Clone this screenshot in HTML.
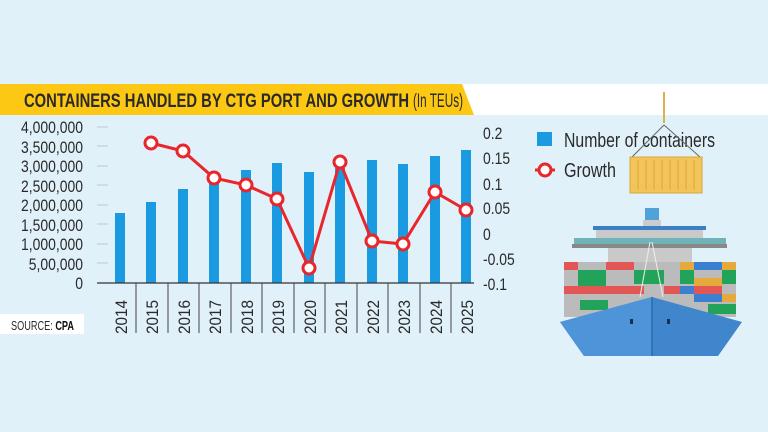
<!DOCTYPE html>
<html><head><meta charset="utf-8"><style>
html,body{margin:0;padding:0;width:768px;height:432px;overflow:hidden;background:#e1f1fa}
svg{display:block}
text{font-family:"Liberation Sans Narrow","Liberation Sans",sans-serif;fill:#2a2a2a}
</style></head><body>
<svg width="768" height="432" viewBox="0 0 768 432">
<rect width="768" height="432" fill="#e1f1fa"/>
<rect x="0" y="84" width="768" height="31" fill="#ffffff"/>
<polygon points="0,84 462,84 474,115 0,115" fill="#fcc813"/>
<text x="24" y="107" font-size="19" font-weight="bold" fill="#222" textLength="385" lengthAdjust="spacingAndGlyphs">CONTAINERS HANDLED BY CTG PORT AND GROWTH</text>
<text x="413" y="107" font-size="19" fill="#222" textLength="50" lengthAdjust="spacingAndGlyphs">(In TEUs)</text>
<g font-size="17" text-anchor="end" transform="translate(83,0) scale(0.82,1) translate(-83,0)">
<text x="83" y="133">4,000,000</text>
<text x="83" y="153">3,500,000</text>
<text x="83" y="172">3,000,000</text>
<text x="83" y="192">2,500,000</text>
<text x="83" y="211">2,000,000</text>
<text x="83" y="231">1,500,000</text>
<text x="83" y="250">1,000,000</text>
<text x="83" y="270">5,00,000</text>
<text x="83" y="289">0</text>
</g>
<g stroke="#b9c7d0" stroke-width="1">
<line x1="97" y1="127" x2="108" y2="127"/><line x1="97" y1="146" x2="108" y2="146"/>
<line x1="97" y1="166" x2="108" y2="166"/><line x1="97" y1="185" x2="108" y2="185"/>
<line x1="97" y1="205" x2="108" y2="205"/><line x1="97" y1="224" x2="108" y2="224"/>
<line x1="97" y1="244" x2="108" y2="244"/><line x1="97" y1="263" x2="108" y2="263"/>
</g>
<g font-size="17" transform="translate(483,0) scale(0.82,1) translate(-483,0)">
<text x="483" y="139">0.2</text><text x="483" y="164">0.15</text><text x="483" y="190">0.1</text>
<text x="483" y="214">0.05</text><text x="483" y="240">0</text><text x="483" y="265">-0.05</text>
<text x="483" y="290">-0.1</text>
</g>
<g fill="#1a9ae0">
<rect x="115" y="213" width="10" height="70"/><rect x="146" y="202" width="10" height="81"/>
<rect x="178" y="189" width="10" height="94"/><rect x="209" y="172" width="10" height="111"/>
<rect x="241" y="170" width="10" height="113"/><rect x="272" y="163" width="10" height="120"/>
<rect x="304" y="172" width="10" height="111"/><rect x="335" y="168" width="10" height="115"/>
<rect x="367" y="160" width="10" height="123"/><rect x="398" y="164" width="10" height="119"/>
<rect x="430" y="156" width="10" height="127"/><rect x="461" y="150" width="10" height="133"/>
</g>
<line x1="97" y1="283" x2="474" y2="283" stroke="#333" stroke-width="1.2"/>
<g stroke="#444" stroke-width="1">
<line x1="136" y1="283" x2="136" y2="333"/><line x1="168" y1="283" x2="168" y2="333"/>
<line x1="199" y1="283" x2="199" y2="333"/><line x1="231" y1="283" x2="231" y2="333"/>
<line x1="262" y1="283" x2="262" y2="333"/><line x1="294" y1="283" x2="294" y2="333"/>
<line x1="325" y1="283" x2="325" y2="333"/><line x1="357" y1="283" x2="357" y2="333"/>
<line x1="388" y1="283" x2="388" y2="333"/><line x1="420" y1="283" x2="420" y2="333"/>
<line x1="451" y1="283" x2="451" y2="333"/>
</g>
<g font-size="17">
<text transform="translate(127,334) rotate(-90)" textLength="34" lengthAdjust="spacingAndGlyphs">2014</text>
<text transform="translate(158,334) rotate(-90)" textLength="34" lengthAdjust="spacingAndGlyphs">2015</text>
<text transform="translate(190,334) rotate(-90)" textLength="34" lengthAdjust="spacingAndGlyphs">2016</text>
<text transform="translate(221,334) rotate(-90)" textLength="34" lengthAdjust="spacingAndGlyphs">2017</text>
<text transform="translate(253,334) rotate(-90)" textLength="34" lengthAdjust="spacingAndGlyphs">2018</text>
<text transform="translate(284,334) rotate(-90)" textLength="34" lengthAdjust="spacingAndGlyphs">2019</text>
<text transform="translate(316,334) rotate(-90)" textLength="34" lengthAdjust="spacingAndGlyphs">2020</text>
<text transform="translate(347,334) rotate(-90)" textLength="34" lengthAdjust="spacingAndGlyphs">2021</text>
<text transform="translate(379,334) rotate(-90)" textLength="34" lengthAdjust="spacingAndGlyphs">2022</text>
<text transform="translate(410,334) rotate(-90)" textLength="34" lengthAdjust="spacingAndGlyphs">2023</text>
<text transform="translate(442,334) rotate(-90)" textLength="34" lengthAdjust="spacingAndGlyphs">2024</text>
<text transform="translate(473,334) rotate(-90)" textLength="34" lengthAdjust="spacingAndGlyphs">2025</text>
</g>
<polyline points="151,143 183,151 214,178 246,185 277,199 309,268 340,162 372,241 403,244 435,192 466,210" fill="none" stroke="#e8262b" stroke-width="3"/>
<g fill="#fff" stroke="#e8262b" stroke-width="3">
<circle cx="151" cy="143" r="6"/><circle cx="183" cy="151" r="6"/><circle cx="214" cy="178" r="6"/>
<circle cx="246" cy="185" r="6"/><circle cx="277" cy="199" r="6"/><circle cx="309" cy="268" r="6"/>
<circle cx="340" cy="162" r="6"/><circle cx="372" cy="241" r="6"/><circle cx="403" cy="244" r="6"/>
<circle cx="435" cy="192" r="6"/><circle cx="466" cy="210" r="6"/>
</g>
<rect x="0" y="314" width="84" height="20" fill="#fff"/>
<text x="11" y="330" font-size="13" fill="#333" textLength="63" lengthAdjust="spacingAndGlyphs">SOURCE: <tspan font-weight="bold" fill="#111">CPA</tspan></text>
<!-- legend -->
<rect x="537" y="132" width="15" height="14" fill="#1a9ae0"/>
<text x="564" y="147" font-size="20" textLength="151" lengthAdjust="spacingAndGlyphs">Number of containers</text>
<line x1="535" y1="170" x2="555" y2="170" stroke="#e8262b" stroke-width="3"/>
<circle cx="545" cy="170" r="6" fill="#fff" stroke="#e8262b" stroke-width="3"/>
<text x="564" y="177" font-size="20" textLength="52" lengthAdjust="spacingAndGlyphs">Growth</text>
<!-- crane + container -->
<line x1="664" y1="92" x2="664" y2="123" stroke="#d8b24a" stroke-width="2"/>
<line x1="664" y1="125" x2="632" y2="157" stroke="#666" stroke-width="1"/>
<line x1="664" y1="125" x2="700" y2="157" stroke="#666" stroke-width="1"/>
<rect x="630" y="157" width="72" height="36" fill="#f3c45a" stroke="#d9a73c"/>
<g stroke="#d9a73c" stroke-width="1">
<line x1="638" y1="160" x2="638" y2="190"/><line x1="646" y1="160" x2="646" y2="190"/>
<line x1="654" y1="160" x2="654" y2="190"/><line x1="662" y1="160" x2="662" y2="190"/>
<line x1="670" y1="160" x2="670" y2="190"/><line x1="678" y1="160" x2="678" y2="190"/>
<line x1="686" y1="160" x2="686" y2="190"/><line x1="694" y1="160" x2="694" y2="190"/>
</g>
<!-- ship -->
<rect x="645" y="208" width="14" height="12" fill="#4fa3d8"/>
<rect x="643" y="220" width="18" height="6" fill="#ccc"/>
<rect x="593" y="226" width="113" height="4" fill="#3b7fc4"/>
<rect x="596" y="230" width="107" height="12" fill="#c9c9c9"/>
<rect x="574" y="238" width="152" height="6" fill="#6fb3b8"/>
<rect x="572" y="244" width="155" height="4" fill="#888"/>
<rect x="608" y="248" width="84" height="16" fill="#c9c9c9"/>
<g>
<rect x="564" y="262" width="172" height="55" fill="#bbbbbb"/>
<rect x="564" y="262" width="14" height="8" fill="#e25656"/><rect x="578" y="270" width="28" height="20" fill="#23a35a"/>
<rect x="606" y="262" width="28" height="8" fill="#e25656"/><rect x="564" y="286" width="42" height="8" fill="#e25656"/>
<rect x="606" y="286" width="38" height="8" fill="#e25656"/><rect x="634" y="270" width="30" height="14" fill="#23a35a"/>
<rect x="680" y="262" width="14" height="8" fill="#e6a93c"/><rect x="694" y="262" width="28" height="8" fill="#3a7fd0"/>
<rect x="722" y="262" width="14" height="8" fill="#e6a93c"/><rect x="680" y="270" width="14" height="14" fill="#23a35a"/>
<rect x="694" y="278" width="28" height="8" fill="#e6a93c"/><rect x="722" y="270" width="14" height="14" fill="#23a35a"/>
<rect x="680" y="286" width="14" height="8" fill="#3a7fd0"/><rect x="694" y="286" width="28" height="8" fill="#e25656"/>
<rect x="664" y="286" width="16" height="8" fill="#e25656"/><rect x="722" y="294" width="14" height="8" fill="#e6a93c"/>
<rect x="694" y="294" width="28" height="8" fill="#3a7fd0"/><rect x="580" y="300" width="28" height="10" fill="#23a35a"/>
<rect x="708" y="304" width="28" height="10" fill="#23a35a"/>
</g>
<polygon points="560,322 652,297 742,322 718,356 584,356" fill="#3f86cc"/>
<polygon points="652,297 652,356 584,356 560,322" fill="#4d95d8"/>
<line x1="652" y1="297" x2="652" y2="356" stroke="#2d6aa8" stroke-width="1.5"/>
<rect x="630" y="319" width="3" height="5" fill="#1c2f48"/><rect x="667" y="319" width="3" height="5" fill="#1c2f48"/>
<line x1="650" y1="242" x2="640" y2="297" stroke="#eee" stroke-width="1"/>
<line x1="652" y1="242" x2="663" y2="297" stroke="#eee" stroke-width="1"/>
</svg>
</body></html>
